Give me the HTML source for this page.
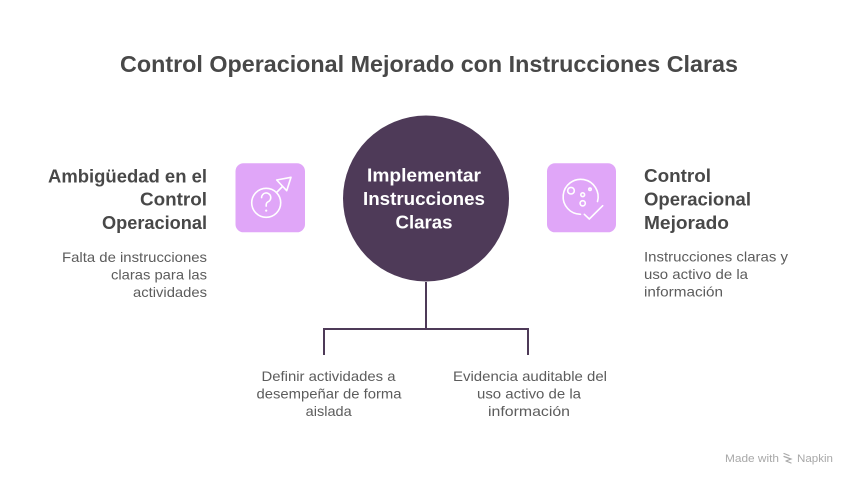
<!DOCTYPE html>
<html>
<head>
<meta charset="utf-8">
<style>
  html, body { margin: 0; padding: 0; background: #ffffff; }
  body { width: 858px; height: 486px; overflow: hidden; }
  svg { display: block; }
  text { font-family: "Liberation Sans", Arial, sans-serif; }
</style>
</head>
<body>
<svg width="858" height="486" viewBox="0 0 858 486" xmlns="http://www.w3.org/2000/svg">
  <rect x="0" y="0" width="858" height="486" fill="#ffffff"/>

  <!-- Title -->
  <text x="429" y="72" text-anchor="middle" font-size="23" font-weight="bold" fill="#484848" textLength="618" lengthAdjust="spacingAndGlyphs">Control Operacional Mejorado con Instrucciones Claras</text>

  <!-- Connectors -->
  <g stroke="#4e3a58" stroke-width="2" fill="none">
    <line x1="426" y1="282" x2="426" y2="329"/>
    <line x1="323" y1="329" x2="529" y2="329"/>
    <line x1="324" y1="328" x2="324" y2="355"/>
    <line x1="528" y1="328" x2="528" y2="355"/>
  </g>

  <!-- Central circle -->
  <circle cx="426" cy="198.5" r="83" fill="#4e3a58"/>
  <g font-size="18" font-weight="bold" fill="#ffffff" text-anchor="middle">
    <text x="424" y="181.5" textLength="114" lengthAdjust="spacingAndGlyphs">Implementar</text>
    <text x="424" y="205" textLength="122" lengthAdjust="spacingAndGlyphs">Instrucciones</text>
    <text x="424" y="228.5" textLength="57" lengthAdjust="spacingAndGlyphs">Claras</text>
  </g>

  <!-- Left icon box -->
  <rect x="235.5" y="163.3" width="69.5" height="69" rx="8" fill="#e0a6f8"/>
  <g stroke="#ffffff" stroke-width="1.6" fill="none" stroke-linecap="round" stroke-linejoin="round">
    <circle cx="266.2" cy="202.8" r="14.5"/>
    <line x1="276.5" y1="192.5" x2="282.5" y2="186.5"/>
    <polygon points="276.7,180 291,177.3 286.7,190.7"/>
    <path d="M261.6,197.6 a4.6,4.6 0 1 1 6.6,4.1 c-1.4,0.7 -2,1.6 -2,3.2 v1.2"/>
  </g>
  <circle cx="266.2" cy="210.6" r="1.1" fill="#ffffff"/>

  <!-- Right icon box -->
  <rect x="547" y="163.3" width="69" height="69" rx="8" fill="#e0a6f8"/>
  <g stroke="#ffffff" stroke-width="1.6" fill="none" stroke-linecap="round" stroke-linejoin="round">
    <path d="M580.5,214.3 A17.5,17.5 0 1 1 597.5,201.5"/>
    <circle cx="571" cy="190.7" r="3.3"/>
    <circle cx="582.7" cy="194.7" r="1.9"/>
    <circle cx="590" cy="189.3" r="1.2"/>
    <circle cx="582.7" cy="203.3" r="2.6"/>
    <polyline points="584.3,214.3 589.3,219 602.7,205.7"/>
  </g>

  <!-- Left heading -->
  <g font-size="18" font-weight="bold" fill="#484848" text-anchor="end">
    <text x="207" y="182.5" textLength="159" lengthAdjust="spacingAndGlyphs">Ambigüedad en el</text>
    <text x="207" y="205.5" textLength="67" lengthAdjust="spacingAndGlyphs">Control</text>
    <text x="207" y="229" textLength="105" lengthAdjust="spacingAndGlyphs">Operacional</text>
  </g>
  <g font-size="14" fill="#5c5c5c" text-anchor="end">
    <text x="207" y="262" textLength="145" lengthAdjust="spacingAndGlyphs">Falta de instrucciones</text>
    <text x="207" y="279.5" textLength="96" lengthAdjust="spacingAndGlyphs">claras para las</text>
    <text x="207" y="297" textLength="74" lengthAdjust="spacingAndGlyphs">actividades</text>
  </g>

  <!-- Right heading -->
  <g font-size="18" font-weight="bold" fill="#484848" text-anchor="start">
    <text x="644" y="182" textLength="67" lengthAdjust="spacingAndGlyphs">Control</text>
    <text x="644" y="205.5" textLength="107" lengthAdjust="spacingAndGlyphs">Operacional</text>
    <text x="644" y="229" textLength="85" lengthAdjust="spacingAndGlyphs">Mejorado</text>
  </g>
  <g font-size="14" fill="#5c5c5c" text-anchor="start">
    <text x="644" y="261.5" textLength="144" lengthAdjust="spacingAndGlyphs">Instrucciones claras y</text>
    <text x="644" y="279" textLength="104" lengthAdjust="spacingAndGlyphs">uso activo de la</text>
    <text x="644" y="296.5" textLength="79" lengthAdjust="spacingAndGlyphs">información</text>
  </g>

  <!-- Bottom labels -->
  <g font-size="14" fill="#5c5c5c" text-anchor="middle">
    <text x="328.5" y="381" textLength="134" lengthAdjust="spacingAndGlyphs">Definir actividades a</text>
    <text x="329" y="398.5" textLength="145" lengthAdjust="spacingAndGlyphs">desempeñar de forma</text>
    <text x="328.7" y="416" textLength="46" lengthAdjust="spacingAndGlyphs">aislada</text>

    <text x="530" y="381" textLength="154" lengthAdjust="spacingAndGlyphs">Evidencia auditable del</text>
    <text x="529" y="398.5" textLength="104" lengthAdjust="spacingAndGlyphs">uso activo de la</text>
    <text x="529" y="416" textLength="82" lengthAdjust="spacingAndGlyphs">información</text>
  </g>

  <!-- Watermark -->
  <text x="725" y="462" font-size="11" fill="#a8a8a8" textLength="54" lengthAdjust="spacingAndGlyphs">Made with</text>
  <g stroke="#a8a8a8" stroke-width="1.2" fill="none" stroke-linecap="round">
    <path d="M784,453.5 l5,2 M784,456.5 l7,2.5 l-5,2 M786,461 l5,2"/>
  </g>
  <text x="797" y="462" font-size="11" fill="#a8a8a8" textLength="36" lengthAdjust="spacingAndGlyphs">Napkin</text>
</svg>
</body>
</html>
